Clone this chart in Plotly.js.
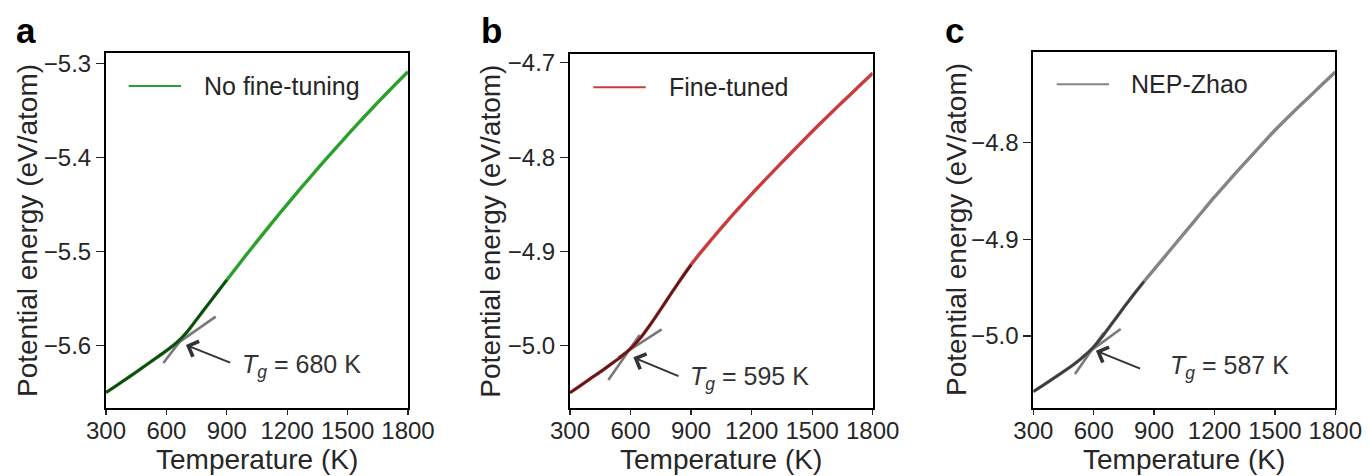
<!DOCTYPE html>
<html>
<head>
<meta charset="utf-8">
<script src="https://cdn.plot.ly/plotly-3.0.1.min.js"></script>
<style>html,body{margin:0;padding:0;background:#fff;}#plot{width:1369px;height:476px;}</style>
</head>
<body>
<div id="plot"></div>
<script>
// ---------- data ----------
const temperature = [300,350,400,450,500,550,600,650,700,750,800,850,900,950,1000,1050,1100,1150,1200,1250,1300,1350,1400,1450,1500,1550,1600,1650,1700,1750,1800];

const energyNoFineTuning = [-5.6495,-5.6425,-5.6352,-5.6278,-5.6203,-5.6128,-5.6050,-5.5968,-5.5860,-5.5720,-5.5580,-5.5440,-5.5300,-5.5162,-5.5025,-5.4890,-5.4757,-5.4626,-5.4497,-5.4370,-5.4245,-5.4121,-5.3999,-5.3879,-5.3760,-5.3643,-5.3528,-5.3415,-5.3304,-5.3195,-5.3088];
const energyFineTuned = [-5.0498,-5.0425,-5.0350,-5.0278,-5.0200,-5.0122,-5.0030,-4.9915,-4.9770,-4.9612,-4.9450,-4.9292,-4.9140,-4.9005,-4.8876,-4.8750,-4.8627,-4.8508,-4.8392,-4.8279,-4.8167,-4.8056,-4.7946,-4.7837,-4.7729,-4.7623,-4.7519,-4.7416,-4.7314,-4.7212,-4.7111];
const energyNEPZhao = [-5.0576,-5.0508,-5.0438,-5.0368,-5.0295,-5.0212,-5.0112,-4.9985,-4.9845,-4.9703,-4.9566,-4.9436,-4.9310,-4.9185,-4.9060,-4.8935,-4.8810,-4.8685,-4.8560,-4.8442,-4.8325,-4.8210,-4.8096,-4.7983,-4.7870,-4.7766,-4.7664,-4.7564,-4.7465,-4.7366,-4.7267];

// fitted-region end temperatures (dark overlay)
const fitEnd = [930, 920, 895];

// extended fit lines near Tg: liquid branch (steep) and glass branch (shallow)
const liquidNoFT_T = [585, 720];  const liquidNoFT_E = [-5.6183, -5.5804];
const glassNoFT_T  = [560, 845];  const glassNoFT_E  = [-5.6114, -5.5689];
const liquidFT_T   = [490, 645];  const liquidFT_E   = [-5.0364, -4.9887];
const glassFT_T    = [540, 754];  const glassFT_E    = [-5.0122, -4.9826];
const liquidNEP_T  = [507, 650];  const liquidNEP_E  = [-5.0393, -4.9965];
const glassNEP_T   = [540, 734];  const glassNEP_E   = [-5.0221, -4.9928];

// arrows: [tipT, tipE, tailT, tailE]
const arrowNoFT = [697, -5.599, 924, -5.6184];
const arrowFT   = [614, -5.0123, 845, -5.0329];
const arrowNEP  = [611, -5.0152, 838, -5.0344];

// Tg labels and anchors
const tgLabels = ["<i>T<sub>g</sub></i> = 680 K", "<i>T<sub>g</sub></i> = 595 K", "<i>T<sub>g</sub></i> = 587 K"];
const tgLabelPos = [[966, -5.621], [886, -5.0343], [970, -5.0317]];

const seriesNames = ["No fine-tuning", "Fine-tuned", "NEP-Zhao"];
const panelLetters = ["a", "b", "c"];
const xTitle = "Temperature (K)";
const yTitle = "Potential energy (eV/atom)";
const xTicks = [300, 600, 900, 1200, 1500, 1800];
const yTicksA = [-5.6, -5.5, -5.4, -5.3];
const yTicksB = [-5.0, -4.9, -4.8, -4.7];
const yTicksC = [-5.0, -4.9, -4.8];
const yRanges = [[-5.666, -5.289], [-5.066, -4.691], [-5.0745, -4.706]];

// ---------- styling ----------
const FONT = '"Liberation Sans", Arial, Helvetica, sans-serif';
const TXT = '#262626';
const colors = ['#2ca02c', '#cc3b3b', '#858585'];
const W = 1369, H = 476;
const xDomains = [[106/W, 408/W], [570/W, 872.7/W], [1033.3/W, 1335.3/W]];
const yDomains = [[1-408/H, 1-53/H], [1-408/H, 1-54.3/H], [1-408/H, 1-52/H]];
const yTitleX = [27.5, 490.5, 956];
const xTitleY = 459;
const legLines = [[128.7, 181, 86], [593.3, 645.7, 87.3], [1056.7, 1109, 84.3]];
const legTextX = [201.7, 666.7, 1129.3];
const letterX = [14, 479, 943];

const energies = [energyNoFineTuning, energyFineTuned, energyNEPZhao];
const fitLines = [
  [[liquidNoFT_T, liquidNoFT_E], [glassNoFT_T, glassNoFT_E]],
  [[liquidFT_T, liquidFT_E], [glassFT_T, glassFT_E]],
  [[liquidNEP_T, liquidNEP_E], [glassNEP_T, glassNEP_E]],
];
const arrows = [arrowNoFT, arrowFT, arrowNEP];
const yTicks = [yTicksA, yTicksB, yTicksC];

const traces = [];
const annotations = [];
const shapes = [];
const layout = {
  width: W, height: H,
  margin: {l: 0, r: 0, t: 0, b: 0},
  paper_bgcolor: '#fff', plot_bgcolor: '#fff',
  showlegend: false,
  font: {family: FONT, color: TXT},
};

for (let i = 0; i < 3; i++) {
  const xa = i === 0 ? 'x' : 'x' + (i + 1);
  const ya = i === 0 ? 'y' : 'y' + (i + 1);
  const xk = i === 0 ? 'xaxis' : 'xaxis' + (i + 1);
  const yk = i === 0 ? 'yaxis' : 'yaxis' + (i + 1);

  // extended fit lines (gray), under the data
  fitLines[i].forEach(fl => {
    traces.push({x: fl[0], y: fl[1], xaxis: xa, yaxis: ya, type: 'scatter', mode: 'lines',
      line: {color: 'rgba(105,105,105,0.9)', width: 2.6}, hoverinfo: 'skip', showlegend: false});
  });
  // data
  traces.push({x: temperature, y: energies[i], xaxis: xa, yaxis: ya, type: 'scatter', mode: 'lines',
    line: {color: colors[i], width: 3.4, shape: 'spline', smoothing: 0.6}, name: seriesNames[i], hoverinfo: 'skip'});
  // dark fit overlay
  const fx = [], fy = [];
  temperature.forEach((t, k) => { if (t <= fitEnd[i]) { fx.push(t); fy.push(energies[i][k]); } });
  traces.push({x: fx, y: fy, xaxis: xa, yaxis: ya, type: 'scatter', mode: 'lines',
    line: {color: 'rgba(0,0,0,0.55)', width: 2.6, shape: 'spline', smoothing: 0.6}, hoverinfo: 'skip', showlegend: false});

  layout[xk] = {
    domain: xDomains[i], anchor: ya, range: [300, 1800],
    tickvals: xTicks, ticktext: xTicks.map(String),
    ticks: 'outside', ticklen: 5, tickwidth: 1.2, tickcolor: '#222', ticklabelstandoff: -5,
    showline: true, linecolor: '#000', linewidth: 2, mirror: true,
    showgrid: false, zeroline: false,
    tickfont: {family: FONT, size: 24, color: TXT},
    automargin: false,
  };
  layout[yk] = {
    domain: yDomains[i], anchor: xa, range: yRanges[i],
    tickvals: yTicks[i], tickformat: '.1f',
    ticks: 'outside', ticklen: 8, tickwidth: 1.2, tickcolor: '#222',
    showline: true, linecolor: '#000', linewidth: 2, mirror: true,
    showgrid: false, zeroline: false,
    tickfont: {family: FONT, size: 24, color: TXT},
    automargin: false,
  };

  // axis titles
  annotations.push({xref: 'paper', yref: 'paper', x: (xDomains[i][0] + xDomains[i][1]) / 2, y: 1 - xTitleY / H,
    text: xTitle, showarrow: false, xanchor: 'center', yanchor: 'middle', font: {family: FONT, size: 28, color: TXT}});
  annotations.push({xref: 'paper', yref: 'paper', x: yTitleX[i] / W, y: (yDomains[i][0] + yDomains[i][1]) / 2,
    text: yTitle, textangle: -90, showarrow: false, xanchor: 'center', yanchor: 'middle', font: {family: FONT, size: 28, color: TXT}});

  // arrow
  const a = arrows[i];
  annotations.push({xref: xa, yref: ya, x: a[0], y: a[1], ax: a[2], ay: a[3], axref: xa, ayref: ya,
    text: '', showarrow: true, arrowhead: 4, arrowsize: 1.6, arrowwidth: 2, arrowcolor: '#333'});
  // Tg label
  annotations.push({xref: xa, yref: ya, x: tgLabelPos[i][0], y: tgLabelPos[i][1], text: tgLabels[i],
    showarrow: false, xanchor: 'left', yanchor: 'middle', font: {family: FONT, size: 25, color: '#333'}});
  // legend
  const L = legLines[i];
  shapes.push({type: 'line', xref: 'paper', yref: 'paper', x0: L[0]/W, x1: L[1]/W,
    y0: 1-L[2]/H, y1: 1-L[2]/H, line: {color: colors[i], width: 2}});
  annotations.push({xref: 'paper', yref: 'paper', x: legTextX[i]/W, y: 1-L[2]/H, text: seriesNames[i],
    showarrow: false, xanchor: 'left', yanchor: 'middle', font: {family: FONT, size: 25, color: TXT}});
  // panel letter
  annotations.push({xref: 'paper', yref: 'paper', x: letterX[i]/W, y: 1-30.5/H, text: '<b>' + panelLetters[i] + '</b>',
    showarrow: false, xanchor: 'left', yanchor: 'middle', font: {family: FONT, size: 35, color: '#000'}});
}
layout.annotations = annotations;
layout.shapes = shapes;

Plotly.newPlot('plot', traces, layout, {displayModeBar: false, staticPlot: true});
</script>
</body>
</html>
